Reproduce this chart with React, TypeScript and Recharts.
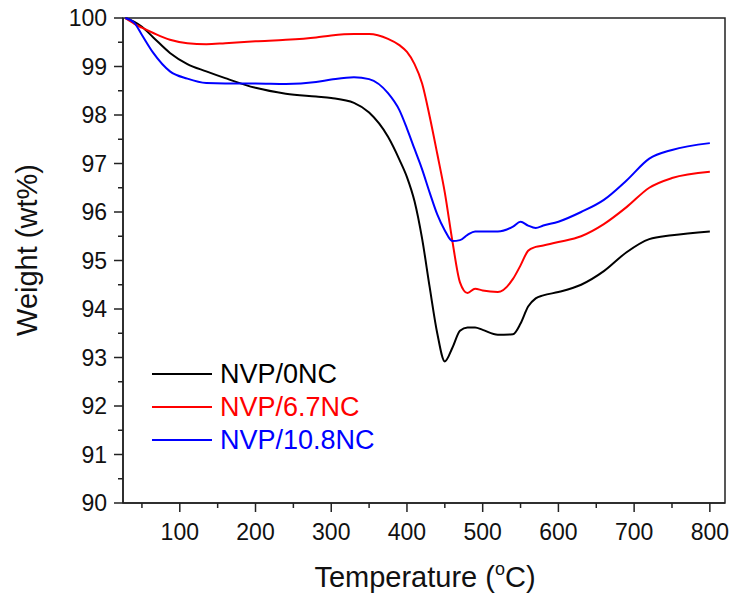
import { LineChart, Line, XAxis, YAxis, ReferenceArea } from 'recharts';

// temperature grid (°C) and weight curves (wt%)
const temps = [28, 40, 50, 65, 87, 110, 135, 160, 200, 240, 280, 300, 330, 350, 375, 390, 400, 410, 420, 430, 440, 450, 460, 470, 480, 490, 500, 520, 540, 550, 560, 570, 580, 600, 630, 660, 690, 720, 750, 800];

const nvp0 = [100, 99.92, 99.82, 99.6, 99.28, 99.05, 98.9, 98.76, 98.56, 98.44, 98.38, 98.35, 98.25, 98.05, 97.55, 97.08, 96.72, 96.22, 95.45, 94.45, 93.5, 92.92, 93.2, 93.55, 93.62, 93.62, 93.57, 93.47, 93.48, 93.7, 94.05, 94.22, 94.28, 94.35, 94.5, 94.78, 95.17, 95.44, 95.52, 95.6];
const nvp67 = [100, 99.88, 99.8, 99.69, 99.55, 99.48, 99.46, 99.48, 99.52, 99.55, 99.6, 99.64, 99.67, 99.67, 99.57, 99.44, 99.3, 99.05, 98.65, 97.97, 97.2, 96.4, 95.4, 94.55, 94.33, 94.42, 94.38, 94.35, 94.62, 94.9, 95.2, 95.28, 95.31, 95.38, 95.5, 95.75, 96.1, 96.5, 96.7, 96.83];
const nvp108 = [100, 99.9, 99.65, 99.28, 98.9, 98.75, 98.66, 98.65, 98.65, 98.64, 98.68, 98.73, 98.78, 98.74, 98.45, 98.1, 97.72, 97.3, 96.88, 96.4, 95.95, 95.62, 95.4, 95.42, 95.53, 95.6, 95.6, 95.6, 95.7, 95.8, 95.72, 95.67, 95.72, 95.8, 96.0, 96.25, 96.65, 97.1, 97.28, 97.42];

const seriesNames = ['NVP/0NC', 'NVP/6.7NC', 'NVP/10.8NC'];
const seriesColors = ['#000000', '#ff0000', '#0000ff'];

const xTicks = [50, 100, 150, 200, 250, 300, 350, 400, 450, 500, 550, 600, 650, 700, 750, 800];
const yTicks = [90, 90.5, 91, 91.5, 92, 92.5, 93, 93.5, 94, 94.5, 95, 95.5, 96, 96.5, 97, 97.5, 98, 98.5, 99, 99.5, 100];

const data = temps.map((t, i) => ({ t, a: nvp0[i], b: nvp67[i], c: nvp108[i] }));

const FONT = '"Liberation Sans", Arial, sans-serif';
const AXIS = '#222';

function XTick({ x, y, payload }: any) {
  const major = payload.value % 100 === 0;
  return (
    <g>
      <line x1={x} x2={x} y1={y} y2={y + (major ? 9 : 5)} stroke={AXIS} strokeWidth={1.5} />
      {major && (
        <text x={x} y={y + 37} textAnchor="middle" fontSize={23} fontFamily={FONT} fill="#111">
          {payload.value}
        </text>
      )}
    </g>
  );
}

function YTick({ x, y, payload }: any) {
  const major = Number.isInteger(payload.value);
  return (
    <g>
      <line x1={x} x2={x - (major ? 9 : 5)} y1={y} y2={y} stroke={AXIS} strokeWidth={1.5} />
      {major && (
        <text x={x - 16} y={y + 8} textAnchor="end" fontSize={23} fontFamily={FONT} fill="#111">
          {payload.value}
        </text>
      )}
    </g>
  );
}

export default function App() {
  return (
    <div style={{ position: 'absolute', left: 0, top: 0, width: 730, height: 596, background: '#fff' }}>
      <LineChart
        width={730}
        height={596}
        data={data}
        margin={{ top: 18, right: 5, bottom: 0, left: 0 }}
      >
        <XAxis
          dataKey="t"
          type="number"
          domain={[25, 820]}
          ticks={xTicks}
          interval={0}
          height={93}
          tickSize={0}
          tickMargin={0}
          tickLine={false}
          tick={<XTick />}
          axisLine={{ stroke: AXIS, strokeWidth: 1.5 }}
        />
        <YAxis
          type="number"
          domain={[90, 100]}
          ticks={yTicks}
          interval={0}
          width={123}
          tickSize={0}
          tickMargin={0}
          tickLine={false}
          tick={<YTick />}
          axisLine={{ stroke: AXIS, strokeWidth: 1.5 }}
        />
        <ReferenceArea x1={25} x2={820} y1={90} y2={100} fill="none" stroke={AXIS} strokeWidth={1.5} />
        <Line dataKey="a" name={seriesNames[0]} stroke={seriesColors[0]} strokeWidth={2} dot={false} type="monotone" isAnimationActive={false} />
        <Line dataKey="b" name={seriesNames[1]} stroke={seriesColors[1]} strokeWidth={2} dot={false} type="monotone" isAnimationActive={false} />
        <Line dataKey="c" name={seriesNames[2]} stroke={seriesColors[2]} strokeWidth={2} dot={false} type="monotone" isAnimationActive={false} />
      </LineChart>

      {/* titles + legend overlay */}
      <svg width={730} height={596} style={{ position: 'absolute', left: 0, top: 0, pointerEvents: 'none' }}>
        <text x={425} y={587} textAnchor="middle" fontSize={29} fontFamily={FONT} fill="#111">
          Temperature (<tspan fontSize={18} dy={-12}>o</tspan><tspan dy={12}>C)</tspan>
        </text>
        <text
          transform="translate(37, 250) rotate(-90)"
          textAnchor="middle"
          fontSize={29}
          fontFamily={FONT}
          fill="#111"
        >
          Weight (wt%)
        </text>
        {seriesNames.map((name, i) => (
          <g key={name}>
            <line x1={152} x2={212} y1={374 + i * 33} y2={374 + i * 33} stroke={seriesColors[i]} strokeWidth={2} />
            <text x={220} y={383 + i * 33} fontSize={27} fontFamily={FONT} fill={seriesColors[i]}>
              {name}
            </text>
          </g>
        ))}
      </svg>
    </div>
  );
}
